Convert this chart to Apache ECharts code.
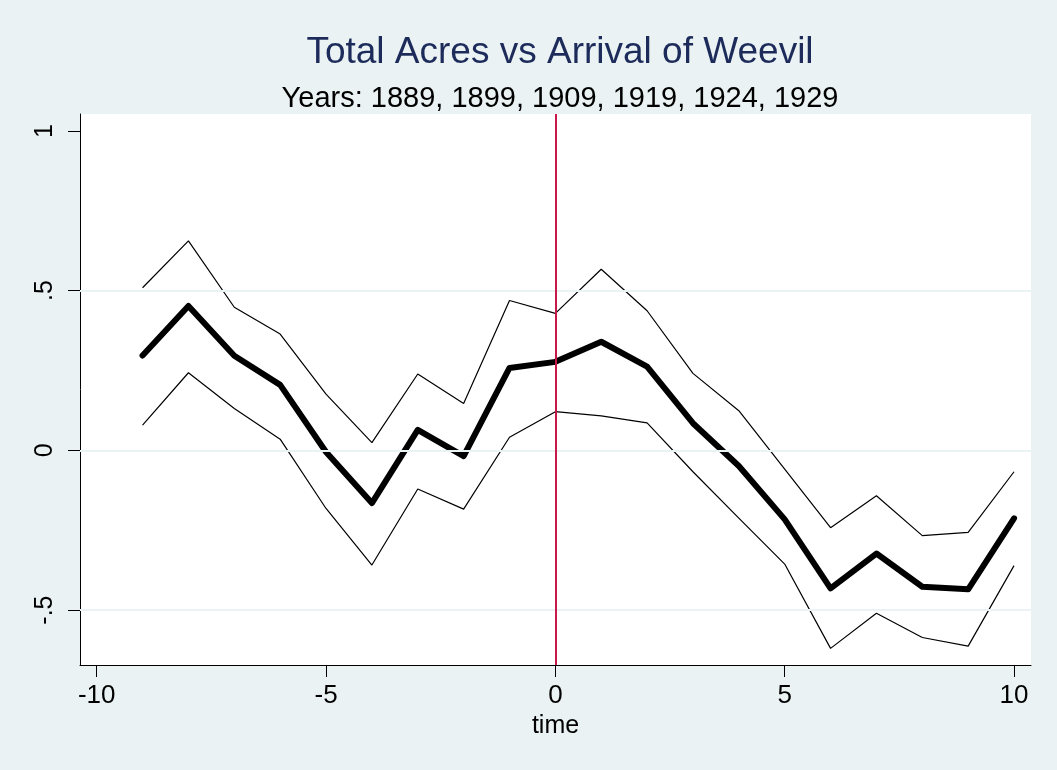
<!DOCTYPE html>
<html>
<head>
<meta charset="utf-8">
<script src="https://cdn.jsdelivr.net/npm/echarts@6/dist/echarts.min.js"></script>
<style>
  html, body { margin: 0; padding: 0; background: #EAF2F3; }
  #chart { width: 1057px; height: 770px; }
</style>
</head>
<body>
<div id="chart"></div>
<script>
  // event time relative to weevil arrival
  const time = [-9, -8, -7, -6, -5, -4, -3, -2, -1, 0, 1, 2, 3, 4, 5, 6, 7, 8, 9, 10]
  // point estimates
  const coef = [0.297, 0.452, 0.296, 0.205, -0.005, -0.165, 0.064, -0.018, 0.258, 0.277,
    0.340, 0.262, 0.085, -0.049, -0.216, -0.432, -0.323, -0.427, -0.435, -0.213]
  // upper and lower confidence bounds
  const upper = [0.509, 0.656, 0.448, 0.364, 0.176, 0.024, 0.239, 0.147, 0.469, 0.429,
    0.567, 0.437, 0.241, 0.124, -0.059, -0.242, -0.142, -0.267, -0.257, -0.067]
  const lower = [0.079, 0.243, 0.131, 0.035, -0.182, -0.359, -0.121, -0.184, 0.041, 0.121,
    0.108, 0.086, -0.067, -0.212, -0.356, -0.620, -0.510, -0.586, -0.613, -0.361]

  const xTicks = [-10, -5, 0, 5, 10]
  const yTicks = [-0.5, 0, 0.5, 1]
  const yTickLabels = ['-.5', '0', '.5', '1']
  const gridLines = [-0.5, 0, 0.5]

  const pairs = arr => time.map((t, i) => [t, arr[i]])
  const font = '"Liberation Sans", Arial, sans-serif'

  const chart = echarts.init(document.getElementById('chart'))
  chart.setOption({
    backgroundColor: '#EAF2F3',
    animation: false,
    title: [{
      text: 'Total Acres vs Arrival of Weevil',
      left: 555,
      top: 29,
      textAlign: 'center',
      textStyle: { fontFamily: font, fontSize: 37, fontWeight: 'normal', color: '#1C2B5A' }
    }, {
      text: 'Years: 1889, 1899, 1909, 1919, 1924, 1929',
      left: 555,
      top: 79,
      textAlign: 'center',
      textStyle: { fontFamily: font, fontSize: 29, fontWeight: 'normal', color: '#000' }
    }],
    grid: {
      left: 80, top: 114, width: 951, height: 551,
      show: true, backgroundColor: '#fff', borderWidth: 0
    },
    xAxis: {
      type: 'value',
      min: -10.364, max: 10.37,
      name: 'time',
      nameLocation: 'middle',
      nameGap: 42,
      nameTextStyle: { fontFamily: font, fontSize: 25, color: '#000' },
      axisLine: { onZero: false, lineStyle: { color: '#000', width: 1 } },
      axisTick: { customValues: xTicks, length: 12, lineStyle: { color: '#000' } },
      axisLabel: { customValues: xTicks, fontFamily: font, fontSize: 26, color: '#000', margin: 18 },
      splitLine: { show: false }
    },
    yAxis: {
      type: 'value',
      min: -0.672, max: 1.053,
      axisLine: { show: true, onZero: false, lineStyle: { color: '#000', width: 1 } },
      axisTick: { show: true, customValues: yTicks, length: 12, lineStyle: { color: '#000' } },
      axisLabel: {
        customValues: yTicks, rotate: 90, fontFamily: font, fontSize: 25, color: '#000', margin: 22,
        formatter: v => yTickLabels[yTicks.findIndex(t => Math.abs(t - v) < 1e-9)]
      },
      splitLine: { show: false }
    },
    series: [{
      name: 'grid',
      type: 'line',
      data: [],
      z: 1,
      markLine: {
        silent: true, symbol: 'none', label: { show: false },
        lineStyle: { color: '#EAF2F3', width: 2, type: 'solid' },
        data: gridLines.map(v => ({ yAxis: v }))
      }
    }, {
      name: 'upper',
      type: 'line',
      data: pairs(upper),
      showSymbol: false,
      lineStyle: { color: '#000', width: 1.2 },
      z: 3
    }, {
      name: 'lower',
      type: 'line',
      data: pairs(lower),
      showSymbol: false,
      lineStyle: { color: '#000', width: 1.2 },
      z: 3
    }, {
      name: 'coef',
      type: 'line',
      data: pairs(coef),
      showSymbol: false,
      lineStyle: { color: '#000', width: 6, cap: 'round', join: 'round' },
      z: 4
    }, {
      name: 'event',
      type: 'line',
      data: [],
      z: 5,
      markLine: {
        silent: true, symbol: 'none', label: { show: false },
        lineStyle: { color: '#C8184A', width: 2, type: 'solid' },
        data: [{ xAxis: 0 }]
      }
    }]
  })
</script>
</body>
</html>
